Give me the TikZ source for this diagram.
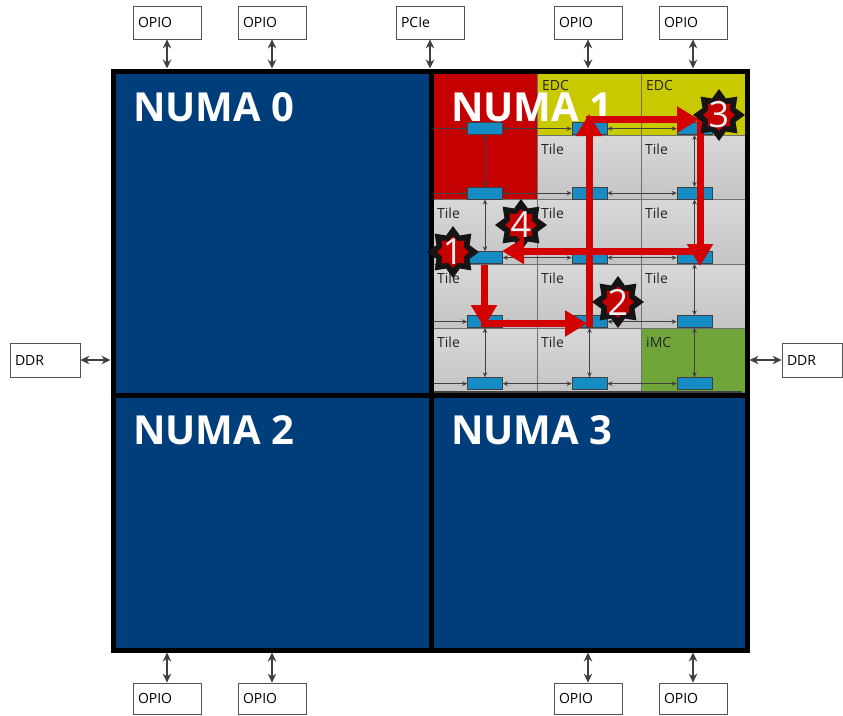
\documentclass[tikz,border=0pt]{standalone}
\usepackage{fontspec}
\setmainfont{Open Sans}
\usetikzlibrary{arrows.meta,shapes.geometric}
\definecolor{numablue}{RGB}{0,61,123}
\definecolor{redc}{RGB}{196,0,0}
\definecolor{edcy}{RGB}{201,201,0}
\definecolor{imcg}{RGB}{112,165,58}
\definecolor{routerb}{RGB}{22,140,196}
\definecolor{arrowred}{RGB}{210,0,0}
\definecolor{darkg}{RGB}{64,64,64}
\definecolor{gridg}{RGB}{112,112,112}
\definecolor{tiletop}{RGB}{216,216,216}
\definecolor{tilebot}{RGB}{196,196,196}
\tikzset{
  cellbase/.style={draw=gridg, line width=0.8},
  tilecell/.style={cellbase, top color=tiletop, bottom color=tilebot},
  redcell/.style={cellbase, fill=redc},
  edccell/.style={cellbase, fill=edcy},
  imccell/.style={cellbase, fill=imcg},
  celltext/.style={anchor=base west, inner sep=0, text=black!85, font=\fontsize{14}{16}\selectfont},
  numatext/.style={anchor=base west, inner sep=0, text=white, font=\bfseries\fontsize{40}{42}\selectfont},
  router/.style={draw=darkg, line width=0.7, fill=routerb, minimum width=35, minimum height=12, inner sep=0, anchor=south},
  gline/.style={draw=darkg, line width=0.8},
  gtip/.style={-{Stealth[length=5,width=4.5]}},
  gboth/.style={{Stealth[length=5,width=4.5]}-{Stealth[length=5,width=4.5]}},
  redarrow/.style={draw=arrowred, line width=7, -{Triangle[length=22,width=25]}},
  starblack/.style={star, star points=8, star point ratio=1.45, fill=black!92, minimum size=52, inner sep=0},
  starred/.style={star, star points=8, star point ratio=1.35, fill=redc, minimum size=32, inner sep=0},
  digit/.style={text=gray!12, inner sep=0, font=\fontsize{36}{36}\selectfont},
  iobox/.style={draw=gray!65!black, line width=0.8, fill=white, text width=58, align=left, inner xsep=5, inner ysep=0, minimum height=33, font=\fontsize{14}{16}\selectfont},
  ioarrow/.style={draw=darkg, line width=1.3, {Stealth[length=9,width=8.5]}-{Stealth[length=9,width=8.5]}}
}
\begin{document}
\begin{tikzpicture}[x=1pt,y=-1pt]
\useasboundingbox (0,0) rectangle (843,715);
% quadrants
\fill[numablue] (113,71) rectangle (747,650);
% NUMA 1 grid cells
\path[redcell] (433.5,73.5) rectangle (537,199.5);
\path[edccell] (537,73.5) rectangle (641,135);
\path[edccell] (641,73.5) rectangle (745,135);
\foreach \xa/\xb/\ya/\yb in {537/641/135/199.5, 641/745/135/199.5,
   433.5/537/199.5/264, 537/641/199.5/264, 641/745/199.5/264,
   433.5/537/264/328, 537/641/264/328, 641/745/264/328,
   433.5/537/328/392, 537/641/328/392}
  \path[tilecell] (\xa,\ya) rectangle (\xb,\yb);
\path[imccell] (641,328) rectangle (745,392);
\draw[darkg, line width=2] (433.5,391.5) -- (742,391.5);
% cell labels
\node[celltext] at (542,90) {EDC};
\node[celltext] at (646,90) {EDC};
\foreach \x/\y in {541/154, 645/154, 437/218.5, 541/218.5, 645/218.5, 437/283, 541/283, 645/283, 437/347, 541/347}
  \node[celltext] at (\x,\y) {Tile};
\node[celltext] at (646,347) {iMC};
% routers
\foreach \r/\yb in {0/135,1/199.5,2/264,3/328,4/390}
  \foreach \c/\cx in {0/485,1/589.5,2/694.5}
    \node[router] (b\r\c) at (\cx,\yb) {};
\coordinate (gl) at (433.5,0);
\foreach \r in {0,...,4} {
  \draw[gline,gtip] (b\r0.west -| gl) -- (b\r0.west);
  \draw[gline,gboth] (b\r0.east) -- (b\r1.west);
  \draw[gline,gboth] (b\r1.east) -- (b\r2.west);
}
\foreach \p/\r in {0/1,1/2,2/3,3/4}
  \foreach \c in {0,1,2}
    \draw[gline,gboth] (b\p\c.south) -- (b\r\c.north);
% borders
\draw[line width=5] (113,71) rectangle (747,650);
\draw[line width=5] (431,71) -- (431,650);
\draw[line width=5] (113,395) -- (747,395);
% NUMA labels
\node[numatext] (n0) at (133,121) {NUMA 0};
\node[numatext] (n1) at (451,121) {NUMA 1};
\node[numatext] (n2) at (133,444) {NUMA 2};
\node[numatext] (n3) at (451,444) {NUMA 3};
% star 4 (below the red arrow)
\node[starblack] (s4) at (521,225) {};
\node[starred] at (s4) {};
\node[digit] at (s4) {4};
% red path
\coordinate (ra) at (484,265);
\coordinate (rb) at (484,327);
\coordinate (rc) at (480.5,323.5);
\coordinate (rd) at (587,323.5);
\coordinate (re) at (589,327);
\coordinate (rf) at (589,114);
\coordinate (rg) at (585.5,119.5);
\coordinate (rh) at (699,119.5);
\coordinate (ri) at (700,116);
\coordinate (rj) at (700,266);
\coordinate (rk) at (703.5,251);
\coordinate (rl) at (502,251);
\draw[redarrow] (ra) -- (rb);
\draw[redarrow] (rc) -- (rd);
\draw[redarrow] (re) -- (rf);
\draw[redarrow] (rg) -- (rh);
\draw[redarrow] (ri) -- (rj);
\draw[redarrow] (rk) -- (rl);
% stars
\foreach \n/\x/\y in {1/453/252, 2/618/302, 3/719/115} {
  \node[starblack] (s\n) at (\x,\y) {};
  \node[starred] at (s\n) {};
  \node[digit] at (s\n) {\n};
}
% IO boxes
\coordinate (topb) at (0,68.5);
\coordinate (botb) at (0,652.5);
\foreach \n/\x/\t in {t1/167/OPIO, t2/272/OPIO, t3/430/PCIe, t4/588/OPIO, t5/693/OPIO} {
  \node[iobox] (\n) at (\x,22.5) {\t};
  \draw[ioarrow] (\n.south) -- (\n.south |- topb);
}
\foreach \n/\x in {u1/167, u2/272, u4/588, u5/693} {
  \node[iobox, minimum height=31] (\n) at (\x,698.5) {OPIO};
  \draw[ioarrow] (\n.north |- botb) -- (\n.north);
}
\node[iobox, text width=60, minimum height=34] (ddrl) at (45,360) {DDR};
\node[iobox, text width=50, minimum height=34] (ddrr) at (812,360) {DDR};
\coordinate (lb) at (110.5,0);
\coordinate (rbd) at (749.5,0);
\draw[ioarrow] (ddrl.east) -- (ddrl.east -| lb);
\draw[ioarrow] (ddrr.west -| rbd) -- (ddrr.west);
\end{tikzpicture}
\end{document}
